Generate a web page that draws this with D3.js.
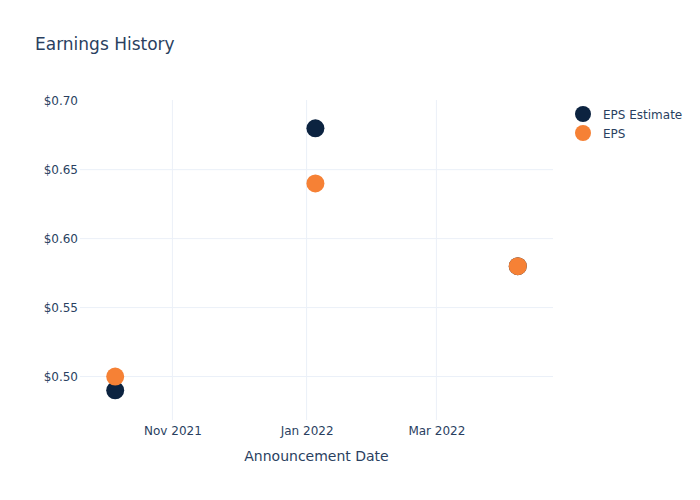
<!DOCTYPE html>
<html>
<head>
<meta charset="utf-8">
<script src="https://cdn.jsdelivr.net/npm/d3@7"></script>
<style>
  body { margin: 0; background: #fff; }
  text { font-family: "DejaVu Sans", Verdana, sans-serif; fill: #2a3f5f; }
</style>
</head>
<body>
<svg id="chart"></svg>
<script>
const WIDTH = 700;
const HEIGHT = 500;
const margin = {top: 100, right: 147, bottom: 80, left: 80};

// data
const dates = ['2021-10-06', '2022-01-05', '2022-04-07'];
const epsEstimate = [0.49, 0.68, 0.58];
const eps = [0.50, 0.64, 0.58];
const xTicks = ['2021-11-01', '2022-01-01', '2022-03-01'];
const yTicks = [0.50, 0.55, 0.60, 0.65, 0.70];
const seriesNames = ['EPS Estimate', 'EPS'];
const seriesColors = ['#0c2340', '#f68135'];

const parse = d3.timeParse('%Y-%m-%d');

const svg = d3.select('#chart')
    .attr('width', WIDTH)
    .attr('height', HEIGHT);

const x = d3.scaleTime()
    .domain([parse('2021-09-20'), parse('2022-04-23')])
    .range([margin.left, WIDTH - margin.right]);

const y = d3.scaleLinear()
    .domain([0.4685, 0.7005])
    .range([HEIGHT - margin.bottom, margin.top]);

// grid
svg.append('g')
    .selectAll('line')
    .data(yTicks.filter(v => v < 0.70))
    .join('line')
      .attr('x1', margin.left).attr('x2', WIDTH - margin.right)
      .attr('y1', d => y(d)).attr('y2', d => y(d))
      .attr('stroke', '#ebf0f8').attr('stroke-width', 1);

svg.append('g')
    .selectAll('line')
    .data(xTicks.map(parse))
    .join('line')
      .attr('x1', d => x(d)).attr('x2', d => x(d))
      .attr('y1', margin.top).attr('y2', HEIGHT - margin.bottom)
      .attr('stroke', '#ebf0f8').attr('stroke-width', 1);

// axes
const yAxis = d3.axisLeft(y)
    .tickValues(yTicks)
    .tickFormat(d => '$' + d3.format('.2f')(d))
    .tickSize(0)
    .tickPadding(2);
svg.append('g')
    .attr('transform', `translate(${margin.left}, 0)`)
    .call(yAxis)
    .call(g => g.select('.domain').remove())
    .selectAll('text')
      .style('font-size', '12px')
      .attr('fill', '#2a3f5f');

const xAxis = d3.axisBottom(x)
    .tickValues(xTicks.map(parse))
    .tickFormat(d3.timeFormat('%b %Y'))
    .tickSize(0)
    .tickPadding(6);
svg.append('g')
    .attr('transform', `translate(0, ${HEIGHT - margin.bottom})`)
    .call(xAxis)
    .call(g => g.select('.domain').remove())
    .selectAll('text')
      .style('font-size', '12px')
      .attr('fill', '#2a3f5f');

// titles
svg.append('text')
    .attr('x', 35).attr('y', 50)
    .style('font-size', '17px')
    .text('Earnings History');

svg.append('text')
    .attr('x', margin.left + (WIDTH - margin.left - margin.right) / 2)
    .attr('y', 461)
    .attr('text-anchor', 'middle')
    .style('font-size', '14px')
    .text('Announcement Date');

// points
[epsEstimate, eps].forEach((vals, i) => {
    svg.append('g')
        .selectAll('circle')
        .data(vals.map((v, j) => ({date: parse(dates[j]), v})))
        .join('circle')
          .attr('cx', d => x(d.date))
          .attr('cy', d => y(d.v))
          .attr('r', 9)
          .attr('fill', seriesColors[i]);
});

// legend
const legend = svg.append('g')
    .attr('transform', `translate(583, 114)`);
seriesNames.forEach((name, i) => {
    legend.append('circle')
        .attr('cx', 0).attr('cy', i * 19)
        .attr('r', 8)
        .attr('fill', seriesColors[i]);
    legend.append('text')
        .attr('x', 20).attr('y', i * 19 + 4.5)
        .style('font-size', '12px')
        .text(name);
});
</script>
</body>
</html>
